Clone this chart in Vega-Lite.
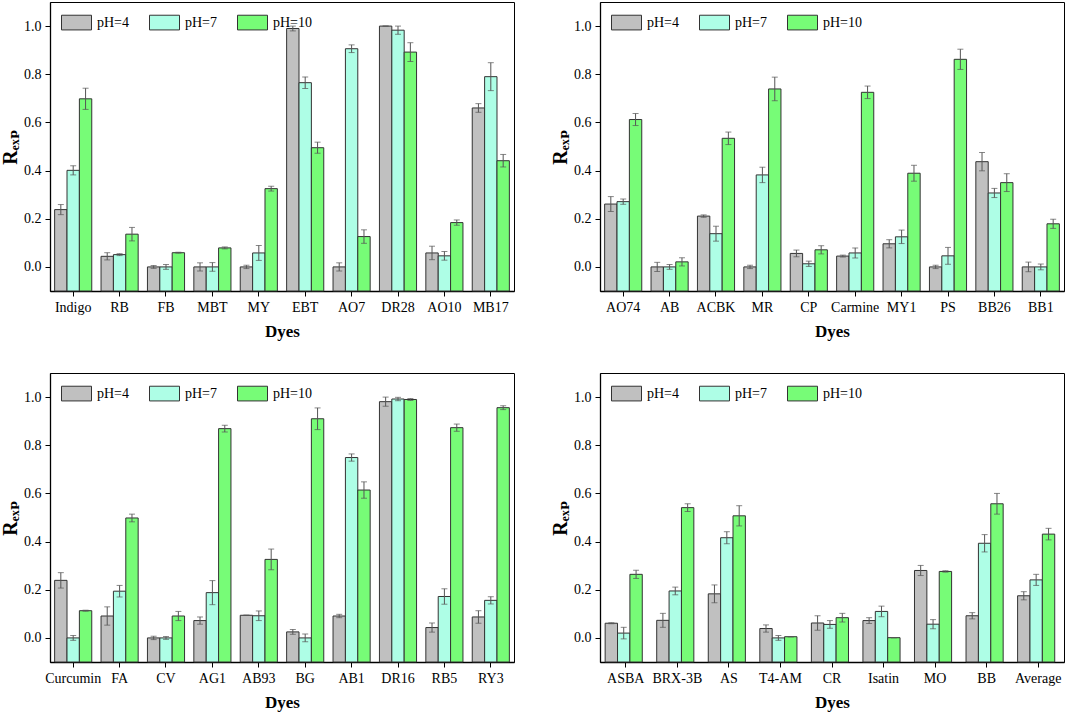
{
  "$schema": "https://vega.github.io/schema/vega-lite/v6.json",
  "padding": {"left": 0, "top": 1, "right": 2, "bottom": 2},
  "background": "white",
  "config": {
    "font": "Liberation Serif",
    "view": {"stroke": "black", "strokeWidth": 1},
    "axis": {
      "labelFont": "Liberation Serif",
      "labelFontSize": 14,
      "labelColor": "black",
      "titleFont": "Liberation Serif, DejaVu Serif, serif",
      "titleFontSize": 17,
      "titleFontWeight": "bold",
      "titleColor": "black",
      "domainColor": "black",
      "domainWidth": 1.3,
      "tickColor": "black",
      "tickSize": 5,
      "labelPadding": 4,
      "grid": false
    },
    "axisX": {"labelAngle": 0, "titlePadding": 9},
    "axisY": {"titlePadding": 3, "titleFontSize": 20},
    "legend": {
      "orient": "none",
      "legendX": 11,
      "legendY": 5,
      "direction": "horizontal",
      "title": null,
      "padding": 0,
      "symbolType": "M-1,-0.49H1V0.49H-1Z",
      "symbolSize": 900,
      "symbolStrokeColor": "#333333",
      "symbolStrokeWidth": 1,
      "symbolOpacity": 1,
      "labelFont": "Liberation Serif",
      "labelFontSize": 14,
      "labelColor": "black",
      "labelOffset": 5,
      "columnPadding": 17
    }
  },
  "data": {
    "values": [
      {"p": 1, "d": "Indigo", "ph": "pH=4", "v": 0.238, "lo": 0.217, "hi": 0.259},
      {"p": 1, "d": "Indigo", "ph": "pH=7", "v": 0.401, "lo": 0.382, "hi": 0.42},
      {"p": 1, "d": "Indigo", "ph": "pH=10", "v": 0.698, "lo": 0.654, "hi": 0.742},
      {"p": 1, "d": "RB", "ph": "pH=4", "v": 0.044, "lo": 0.029, "hi": 0.059},
      {"p": 1, "d": "RB", "ph": "pH=7", "v": 0.051, "lo": 0.047, "hi": 0.055},
      {"p": 1, "d": "RB", "ph": "pH=10", "v": 0.136, "lo": 0.108, "hi": 0.164},
      {"p": 1, "d": "FB", "ph": "pH=4", "v": 0, "lo": -0.006, "hi": 0.006},
      {"p": 1, "d": "FB", "ph": "pH=7", "v": 0, "lo": -0.01, "hi": 0.01},
      {"p": 1, "d": "FB", "ph": "pH=10", "v": 0.059, "lo": 0.057, "hi": 0.061},
      {"p": 1, "d": "MBT", "ph": "pH=4", "v": 0, "lo": -0.017, "hi": 0.017},
      {"p": 1, "d": "MBT", "ph": "pH=7", "v": 0, "lo": -0.018, "hi": 0.018},
      {"p": 1, "d": "MBT", "ph": "pH=10", "v": 0.079, "lo": 0.075, "hi": 0.083},
      {"p": 1, "d": "MY", "ph": "pH=4", "v": 0, "lo": -0.007, "hi": 0.007},
      {"p": 1, "d": "MY", "ph": "pH=7", "v": 0.058, "lo": 0.027, "hi": 0.089},
      {"p": 1, "d": "MY", "ph": "pH=10", "v": 0.325, "lo": 0.315, "hi": 0.335},
      {"p": 1, "d": "EBT", "ph": "pH=4", "v": 0.99, "lo": 0.98, "hi": 1.0},
      {"p": 1, "d": "EBT", "ph": "pH=7", "v": 0.765, "lo": 0.741, "hi": 0.789},
      {"p": 1, "d": "EBT", "ph": "pH=10", "v": 0.495, "lo": 0.472, "hi": 0.518},
      {"p": 1, "d": "AO7", "ph": "pH=4", "v": 0, "lo": -0.017, "hi": 0.017},
      {"p": 1, "d": "AO7", "ph": "pH=7", "v": 0.906, "lo": 0.89, "hi": 0.922},
      {"p": 1, "d": "AO7", "ph": "pH=10", "v": 0.126, "lo": 0.098, "hi": 0.154},
      {"p": 1, "d": "DR28", "ph": "pH=4", "v": 1.0, "lo": 1.0, "hi": 1.0},
      {"p": 1, "d": "DR28", "ph": "pH=7", "v": 0.983, "lo": 0.966, "hi": 1.0},
      {"p": 1, "d": "DR28", "ph": "pH=10", "v": 0.892, "lo": 0.853, "hi": 0.931},
      {"p": 1, "d": "AO10", "ph": "pH=4", "v": 0.058, "lo": 0.03, "hi": 0.086},
      {"p": 1, "d": "AO10", "ph": "pH=7", "v": 0.046, "lo": 0.028, "hi": 0.064},
      {"p": 1, "d": "AO10", "ph": "pH=10", "v": 0.184, "lo": 0.173, "hi": 0.195},
      {"p": 1, "d": "MB17", "ph": "pH=4", "v": 0.66, "lo": 0.642, "hi": 0.678},
      {"p": 1, "d": "MB17", "ph": "pH=7", "v": 0.79, "lo": 0.732, "hi": 0.848},
      {"p": 1, "d": "MB17", "ph": "pH=10", "v": 0.441, "lo": 0.415, "hi": 0.467},

      {"p": 2, "d": "AO74", "ph": "pH=4", "v": 0.261, "lo": 0.23, "hi": 0.292},
      {"p": 2, "d": "AO74", "ph": "pH=7", "v": 0.271, "lo": 0.26, "hi": 0.282},
      {"p": 2, "d": "AO74", "ph": "pH=10", "v": 0.612, "lo": 0.587, "hi": 0.637},
      {"p": 2, "d": "AB", "ph": "pH=4", "v": 0, "lo": -0.019, "hi": 0.019},
      {"p": 2, "d": "AB", "ph": "pH=7", "v": 0, "lo": -0.01, "hi": 0.01},
      {"p": 2, "d": "AB", "ph": "pH=10", "v": 0.021, "lo": 0.004, "hi": 0.038},
      {"p": 2, "d": "ACBK", "ph": "pH=4", "v": 0.211, "lo": 0.206, "hi": 0.216},
      {"p": 2, "d": "ACBK", "ph": "pH=7", "v": 0.138, "lo": 0.107, "hi": 0.169},
      {"p": 2, "d": "ACBK", "ph": "pH=10", "v": 0.534, "lo": 0.508, "hi": 0.56},
      {"p": 2, "d": "MR", "ph": "pH=4", "v": 0, "lo": -0.007, "hi": 0.007},
      {"p": 2, "d": "MR", "ph": "pH=7", "v": 0.382, "lo": 0.35, "hi": 0.414},
      {"p": 2, "d": "MR", "ph": "pH=10", "v": 0.739, "lo": 0.69, "hi": 0.788},
      {"p": 2, "d": "CP", "ph": "pH=4", "v": 0.056, "lo": 0.042, "hi": 0.07},
      {"p": 2, "d": "CP", "ph": "pH=7", "v": 0.013, "lo": 0.002, "hi": 0.024},
      {"p": 2, "d": "CP", "ph": "pH=10", "v": 0.071, "lo": 0.054, "hi": 0.088},
      {"p": 2, "d": "Carmine", "ph": "pH=4", "v": 0.045, "lo": 0.041, "hi": 0.049},
      {"p": 2, "d": "Carmine", "ph": "pH=7", "v": 0.058, "lo": 0.037, "hi": 0.079},
      {"p": 2, "d": "Carmine", "ph": "pH=10", "v": 0.725, "lo": 0.699, "hi": 0.751},
      {"p": 2, "d": "MY1", "ph": "pH=4", "v": 0.096, "lo": 0.079, "hi": 0.113},
      {"p": 2, "d": "MY1", "ph": "pH=7", "v": 0.125, "lo": 0.097, "hi": 0.153},
      {"p": 2, "d": "MY1", "ph": "pH=10", "v": 0.389, "lo": 0.356, "hi": 0.422},
      {"p": 2, "d": "PS", "ph": "pH=4", "v": 0, "lo": -0.007, "hi": 0.007},
      {"p": 2, "d": "PS", "ph": "pH=7", "v": 0.046, "lo": 0.011, "hi": 0.081},
      {"p": 2, "d": "PS", "ph": "pH=10", "v": 0.862, "lo": 0.82, "hi": 0.904},
      {"p": 2, "d": "BB26", "ph": "pH=4", "v": 0.437, "lo": 0.399, "hi": 0.475},
      {"p": 2, "d": "BB26", "ph": "pH=7", "v": 0.307, "lo": 0.288, "hi": 0.326},
      {"p": 2, "d": "BB26", "ph": "pH=10", "v": 0.35, "lo": 0.313, "hi": 0.387},
      {"p": 2, "d": "BB1", "ph": "pH=4", "v": 0, "lo": -0.02, "hi": 0.02},
      {"p": 2, "d": "BB1", "ph": "pH=7", "v": 0, "lo": -0.012, "hi": 0.012},
      {"p": 2, "d": "BB1", "ph": "pH=10", "v": 0.179, "lo": 0.16, "hi": 0.198},

      {"p": 3, "d": "Curcumin", "ph": "pH=4", "v": 0.239, "lo": 0.207, "hi": 0.271},
      {"p": 3, "d": "Curcumin", "ph": "pH=7", "v": 0, "lo": -0.01, "hi": 0.01},
      {"p": 3, "d": "Curcumin", "ph": "pH=10", "v": 0.113, "lo": 0.111, "hi": 0.115},
      {"p": 3, "d": "FA", "ph": "pH=4", "v": 0.091, "lo": 0.053, "hi": 0.129},
      {"p": 3, "d": "FA", "ph": "pH=7", "v": 0.194, "lo": 0.17, "hi": 0.218},
      {"p": 3, "d": "FA", "ph": "pH=10", "v": 0.498, "lo": 0.482, "hi": 0.514},
      {"p": 3, "d": "CV", "ph": "pH=4", "v": 0, "lo": -0.007, "hi": 0.007},
      {"p": 3, "d": "CV", "ph": "pH=7", "v": 0, "lo": -0.006, "hi": 0.006},
      {"p": 3, "d": "CV", "ph": "pH=10", "v": 0.091, "lo": 0.072, "hi": 0.11},
      {"p": 3, "d": "AG1", "ph": "pH=4", "v": 0.072, "lo": 0.057, "hi": 0.087},
      {"p": 3, "d": "AG1", "ph": "pH=7", "v": 0.188, "lo": 0.138, "hi": 0.238},
      {"p": 3, "d": "AG1", "ph": "pH=10", "v": 0.869, "lo": 0.855, "hi": 0.883},
      {"p": 3, "d": "AB93", "ph": "pH=4", "v": 0.094, "lo": 0.093, "hi": 0.095},
      {"p": 3, "d": "AB93", "ph": "pH=7", "v": 0.092, "lo": 0.072, "hi": 0.112},
      {"p": 3, "d": "AB93", "ph": "pH=10", "v": 0.326, "lo": 0.283, "hi": 0.369},
      {"p": 3, "d": "BG", "ph": "pH=4", "v": 0.025, "lo": 0.015, "hi": 0.035},
      {"p": 3, "d": "BG", "ph": "pH=7", "v": 0, "lo": -0.016, "hi": 0.016},
      {"p": 3, "d": "BG", "ph": "pH=10", "v": 0.91, "lo": 0.865, "hi": 0.955},
      {"p": 3, "d": "AB1", "ph": "pH=4", "v": 0.091, "lo": 0.084, "hi": 0.098},
      {"p": 3, "d": "AB1", "ph": "pH=7", "v": 0.749, "lo": 0.734, "hi": 0.764},
      {"p": 3, "d": "AB1", "ph": "pH=10", "v": 0.614, "lo": 0.58, "hi": 0.648},
      {"p": 3, "d": "DR16", "ph": "pH=4", "v": 0.981, "lo": 0.962, "hi": 1.0},
      {"p": 3, "d": "DR16", "ph": "pH=7", "v": 0.992, "lo": 0.985, "hi": 0.999},
      {"p": 3, "d": "DR16", "ph": "pH=10", "v": 0.99, "lo": 0.986, "hi": 0.994},
      {"p": 3, "d": "RB5", "ph": "pH=4", "v": 0.043, "lo": 0.024, "hi": 0.062},
      {"p": 3, "d": "RB5", "ph": "pH=7", "v": 0.172, "lo": 0.14, "hi": 0.204},
      {"p": 3, "d": "RB5", "ph": "pH=10", "v": 0.873, "lo": 0.858, "hi": 0.888},
      {"p": 3, "d": "RY3", "ph": "pH=4", "v": 0.087, "lo": 0.061, "hi": 0.113},
      {"p": 3, "d": "RY3", "ph": "pH=7", "v": 0.156, "lo": 0.141, "hi": 0.171},
      {"p": 3, "d": "RY3", "ph": "pH=10", "v": 0.956, "lo": 0.948, "hi": 0.964},

      {"p": 4, "d": "ASBA", "ph": "pH=4", "v": 0.061, "lo": 0.059, "hi": 0.063},
      {"p": 4, "d": "ASBA", "ph": "pH=7", "v": 0.02, "lo": -0.004, "hi": 0.044},
      {"p": 4, "d": "ASBA", "ph": "pH=10", "v": 0.264, "lo": 0.247, "hi": 0.281},
      {"p": 4, "d": "BRX-3B", "ph": "pH=4", "v": 0.073, "lo": 0.044, "hi": 0.102},
      {"p": 4, "d": "BRX-3B", "ph": "pH=7", "v": 0.195, "lo": 0.179, "hi": 0.211},
      {"p": 4, "d": "BRX-3B", "ph": "pH=10", "v": 0.541, "lo": 0.525, "hi": 0.557},
      {"p": 4, "d": "AS", "ph": "pH=4", "v": 0.183, "lo": 0.146, "hi": 0.22},
      {"p": 4, "d": "AS", "ph": "pH=7", "v": 0.416, "lo": 0.391, "hi": 0.441},
      {"p": 4, "d": "AS", "ph": "pH=10", "v": 0.507, "lo": 0.465, "hi": 0.549},
      {"p": 4, "d": "T4-AM", "ph": "pH=4", "v": 0.039, "lo": 0.024, "hi": 0.054},
      {"p": 4, "d": "T4-AM", "ph": "pH=7", "v": 0, "lo": -0.01, "hi": 0.01},
      {"p": 4, "d": "T4-AM", "ph": "pH=10", "v": 0.005, "lo": 0.004, "hi": 0.006},
      {"p": 4, "d": "CR", "ph": "pH=4", "v": 0.062, "lo": 0.032, "hi": 0.092},
      {"p": 4, "d": "CR", "ph": "pH=7", "v": 0.056, "lo": 0.04, "hi": 0.072},
      {"p": 4, "d": "CR", "ph": "pH=10", "v": 0.084, "lo": 0.066, "hi": 0.102},
      {"p": 4, "d": "Isatin", "ph": "pH=4", "v": 0.072, "lo": 0.06, "hi": 0.084},
      {"p": 4, "d": "Isatin", "ph": "pH=7", "v": 0.11, "lo": 0.088, "hi": 0.132},
      {"p": 4, "d": "Isatin", "ph": "pH=10", "v": 0.001, "lo": 0.001, "hi": 0.001},
      {"p": 4, "d": "MO", "ph": "pH=4", "v": 0.28, "lo": 0.259, "hi": 0.301},
      {"p": 4, "d": "MO", "ph": "pH=7", "v": 0.057, "lo": 0.038, "hi": 0.076},
      {"p": 4, "d": "MO", "ph": "pH=10", "v": 0.276, "lo": 0.273, "hi": 0.279},
      {"p": 4, "d": "BB", "ph": "pH=4", "v": 0.092, "lo": 0.079, "hi": 0.105},
      {"p": 4, "d": "BB", "ph": "pH=7", "v": 0.393, "lo": 0.357, "hi": 0.429},
      {"p": 4, "d": "BB", "ph": "pH=10", "v": 0.557, "lo": 0.514, "hi": 0.6},
      {"p": 4, "d": "Average", "ph": "pH=4", "v": 0.175, "lo": 0.158, "hi": 0.192},
      {"p": 4, "d": "Average", "ph": "pH=7", "v": 0.241, "lo": 0.218, "hi": 0.264},
      {"p": 4, "d": "Average", "ph": "pH=10", "v": 0.431, "lo": 0.407, "hi": 0.455}
    ]
  },
  "columns": 2,
  "spacing": {"row": 32, "column": 35},
  "resolve": {
    "scale": {"x": "independent", "y": "independent", "color": "independent"},
    "legend": {"color": "independent"}
  },
  "concat": [
    {
      "width": 464, "height": 289,
      "transform": [{"filter": "datum.p == 1"}],
      "encoding": {
        "x": {"field": "d", "type": "nominal", "sort": null, "title": "Dyes", "scale": {"paddingInner": 0.2, "paddingOuter": 0.1}},
        "xOffset": {"field": "ph", "type": "nominal", "sort": ["pH=4", "pH=7", "pH=10"], "scale": {"paddingInner": 0, "paddingOuter": 0}}
      },
      "layer": [
        {
          "mark": {"type": "bar", "stroke": "#333333", "strokeWidth": 1},
          "encoding": {
            "y": {"field": "v", "type": "quantitative", "title": "Rₑₓₚ",
                  "scale": {"domain": [-0.1, 1.1], "nice": false, "zero": false},
                  "axis": {"values": [0, 0.1, 0.2, 0.3, 0.4, 0.5, 0.6, 0.7, 0.8, 0.9, 1.0], "format": ".1f",
                           "labelExpr": "indexof(['0.0','0.2','0.4','0.6','0.8','1.0'], datum.label) >= 0 ? datum.label : ''"}},
            "y2": {"datum": -0.1},
            "color": {"field": "ph", "type": "nominal",
                      "scale": {"domain": ["pH=4", "pH=7", "pH=10"], "range": ["#c0c0c0", "#aefee6", "#77fc77"]}}
          }
        },
        {"mark": {"type": "rule", "color": "#555555", "strokeWidth": 1},
         "encoding": {"y": {"field": "lo", "type": "quantitative"}, "y2": {"field": "hi"}}},
        {"mark": {"type": "tick", "orient": "horizontal", "size": 6, "thickness": 1, "color": "#555555"},
         "encoding": {"y": {"field": "lo", "type": "quantitative"}}},
        {"mark": {"type": "tick", "orient": "horizontal", "size": 6, "thickness": 1, "color": "#555555"},
         "encoding": {"y": {"field": "hi", "type": "quantitative"}}}
      ]
    },
    {
      "width": 464, "height": 289,
      "transform": [{"filter": "datum.p == 2"}],
      "encoding": {
        "x": {"field": "d", "type": "nominal", "sort": null, "title": "Dyes", "scale": {"paddingInner": 0.2, "paddingOuter": 0.1}},
        "xOffset": {"field": "ph", "type": "nominal", "sort": ["pH=4", "pH=7", "pH=10"], "scale": {"paddingInner": 0, "paddingOuter": 0}}
      },
      "layer": [
        {
          "mark": {"type": "bar", "stroke": "#333333", "strokeWidth": 1},
          "encoding": {
            "y": {"field": "v", "type": "quantitative", "title": "Rₑₓₚ",
                  "scale": {"domain": [-0.1, 1.1], "nice": false, "zero": false},
                  "axis": {"values": [0, 0.1, 0.2, 0.3, 0.4, 0.5, 0.6, 0.7, 0.8, 0.9, 1.0], "format": ".1f",
                           "labelExpr": "indexof(['0.0','0.2','0.4','0.6','0.8','1.0'], datum.label) >= 0 ? datum.label : ''"}},
            "y2": {"datum": -0.1},
            "color": {"field": "ph", "type": "nominal",
                      "scale": {"domain": ["pH=4", "pH=7", "pH=10"], "range": ["#c0c0c0", "#aefee6", "#77fc77"]}}
          }
        },
        {"mark": {"type": "rule", "color": "#555555", "strokeWidth": 1},
         "encoding": {"y": {"field": "lo", "type": "quantitative"}, "y2": {"field": "hi"}}},
        {"mark": {"type": "tick", "orient": "horizontal", "size": 6, "thickness": 1, "color": "#555555"},
         "encoding": {"y": {"field": "lo", "type": "quantitative"}}},
        {"mark": {"type": "tick", "orient": "horizontal", "size": 6, "thickness": 1, "color": "#555555"},
         "encoding": {"y": {"field": "hi", "type": "quantitative"}}}
      ]
    },
    {
      "width": 464, "height": 289,
      "transform": [{"filter": "datum.p == 3"}],
      "encoding": {
        "x": {"field": "d", "type": "nominal", "sort": null, "title": "Dyes", "scale": {"paddingInner": 0.2, "paddingOuter": 0.1}},
        "xOffset": {"field": "ph", "type": "nominal", "sort": ["pH=4", "pH=7", "pH=10"], "scale": {"paddingInner": 0, "paddingOuter": 0}}
      },
      "layer": [
        {
          "mark": {"type": "bar", "stroke": "#333333", "strokeWidth": 1},
          "encoding": {
            "y": {"field": "v", "type": "quantitative", "title": "Rₑₓₚ",
                  "scale": {"domain": [-0.1, 1.1], "nice": false, "zero": false},
                  "axis": {"values": [0, 0.1, 0.2, 0.3, 0.4, 0.5, 0.6, 0.7, 0.8, 0.9, 1.0], "format": ".1f",
                           "labelExpr": "indexof(['0.0','0.2','0.4','0.6','0.8','1.0'], datum.label) >= 0 ? datum.label : ''"}},
            "y2": {"datum": -0.1},
            "color": {"field": "ph", "type": "nominal",
                      "scale": {"domain": ["pH=4", "pH=7", "pH=10"], "range": ["#c0c0c0", "#aefee6", "#77fc77"]}}
          }
        },
        {"mark": {"type": "rule", "color": "#555555", "strokeWidth": 1},
         "encoding": {"y": {"field": "lo", "type": "quantitative"}, "y2": {"field": "hi"}}},
        {"mark": {"type": "tick", "orient": "horizontal", "size": 6, "thickness": 1, "color": "#555555"},
         "encoding": {"y": {"field": "lo", "type": "quantitative"}}},
        {"mark": {"type": "tick", "orient": "horizontal", "size": 6, "thickness": 1, "color": "#555555"},
         "encoding": {"y": {"field": "hi", "type": "quantitative"}}}
      ]
    },
    {
      "width": 464, "height": 289,
      "transform": [{"filter": "datum.p == 4"}],
      "encoding": {
        "x": {"field": "d", "type": "nominal", "sort": null, "title": "Dyes", "scale": {"paddingInner": 0.2, "paddingOuter": 0.1}},
        "xOffset": {"field": "ph", "type": "nominal", "sort": ["pH=4", "pH=7", "pH=10"], "scale": {"paddingInner": 0, "paddingOuter": 0}}
      },
      "layer": [
        {
          "mark": {"type": "bar", "stroke": "#333333", "strokeWidth": 1},
          "encoding": {
            "y": {"field": "v", "type": "quantitative", "title": "Rₑₓₚ",
                  "scale": {"domain": [-0.1, 1.1], "nice": false, "zero": false},
                  "axis": {"values": [0, 0.1, 0.2, 0.3, 0.4, 0.5, 0.6, 0.7, 0.8, 0.9, 1.0], "format": ".1f",
                           "labelExpr": "indexof(['0.0','0.2','0.4','0.6','0.8','1.0'], datum.label) >= 0 ? datum.label : ''"}},
            "y2": {"datum": -0.1},
            "color": {"field": "ph", "type": "nominal",
                      "scale": {"domain": ["pH=4", "pH=7", "pH=10"], "range": ["#c0c0c0", "#aefee6", "#77fc77"]}}
          }
        },
        {"mark": {"type": "rule", "color": "#555555", "strokeWidth": 1},
         "encoding": {"y": {"field": "lo", "type": "quantitative"}, "y2": {"field": "hi"}}},
        {"mark": {"type": "tick", "orient": "horizontal", "size": 6, "thickness": 1, "color": "#555555"},
         "encoding": {"y": {"field": "lo", "type": "quantitative"}}},
        {"mark": {"type": "tick", "orient": "horizontal", "size": 6, "thickness": 1, "color": "#555555"},
         "encoding": {"y": {"field": "hi", "type": "quantitative"}}}
      ]
    }
  ]
}
